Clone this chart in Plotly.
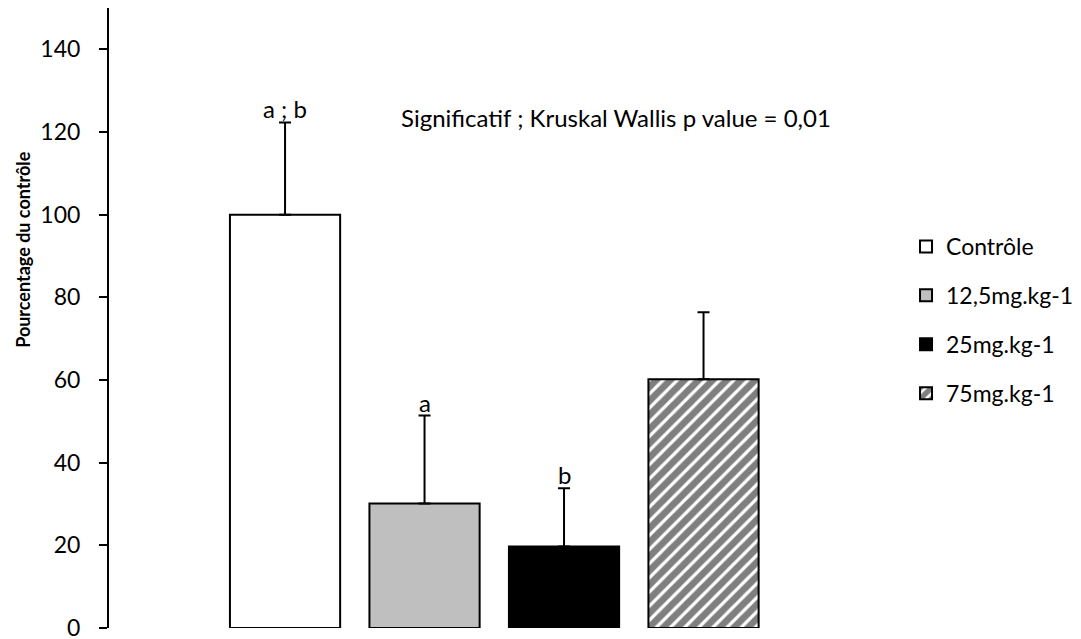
import plotly.graph_objects as go

# data
groups = ['Contrôle', '12,5mg.kg-1', '25mg.kg-1', '75mg.kg-1']
means = [100, 30.1, 19.7, 60.2]
errors = [22.3, 21.3, 14.1, 16.2]
letters = ['a ; b', 'a', 'b', '']
title_y = 'Pourcentage du contrôle'
note = 'Significatif ; Kruskal Wallis p value = 0,01'

FONT = 'Lato'
fills = ['white', '#bfbfbf', 'black', 'white']
patterns = ['', '', '', '/']


def create_chart():
    fig = go.Figure()
    for i, g in enumerate(groups):
        fig.add_trace(go.Bar(
            x=[g], y=[means[i]], name=g,
            legendgroup=g,
            width=0.79,
            marker=dict(color=fills[i],
                        line=dict(color='black', width=2),
                        pattern=dict(shape=patterns[i], fgcolor='black',
                                     bgcolor='white', size=10, solidity=0.68)),
            error_y=dict(type='data', array=[errors[i]], arrayminus=[0],
                         symmetric=False, color='black', thickness=2, width=6),
        ))
        if letters[i]:
            fig.add_annotation(x=g, y=means[i] + errors[i], text=letters[i],
                               showarrow=False, yanchor='bottom', yshift=-3,
                               font=dict(size=24, color='black', family=FONT))

    fig.add_annotation(x=2.37, y=123.5, text=note, showarrow=False,
                       font=dict(size=24, color='black', family=FONT))
    fig.add_annotation(xref='paper', x=-0.116, xanchor='center',
                       yref='paper', y=0.61, yanchor='middle',
                       text='<b>' + title_y + '</b>', textangle=-90,
                       showarrow=False,
                       font=dict(size=18, color='black', family=FONT))

    # page has an 8px body margin, so the figure is shifted by 8px
    fig.update_layout(
        width=1073, height=639,
        plot_bgcolor='white', paper_bgcolor='white',
        margin=dict(l=101, r=231, t=0, b=19, autoexpand=False),
        barmode='overlay',
        font=dict(family=FONT, size=23, color='black'),
        showlegend=True,
        legend=dict(x=1.0756, y=0.65, xanchor='left', yanchor='top',
                    tracegroupgap=16, font=dict(size=23)),
    )
    fig.update_xaxes(type='category', range=[-1.262, 4.05],
                     showticklabels=False, showline=False, ticks='',
                     showgrid=False, zeroline=False)
    fig.update_yaxes(range=[0, 150], tickvals=[0, 20, 40, 60, 80, 100, 120, 140],
                     showline=True, linecolor='black', linewidth=2,
                     ticks='outside', ticklen=8, tickwidth=2, tickcolor='black',
                     ticklabelstandoff=14, ticklabeloverflow='allow',
                     showgrid=False, zeroline=False, automargin=False,
                     tickfont=dict(size=23, family=FONT))
    return fig


fig = create_chart()
fig.write_html('out.html')
